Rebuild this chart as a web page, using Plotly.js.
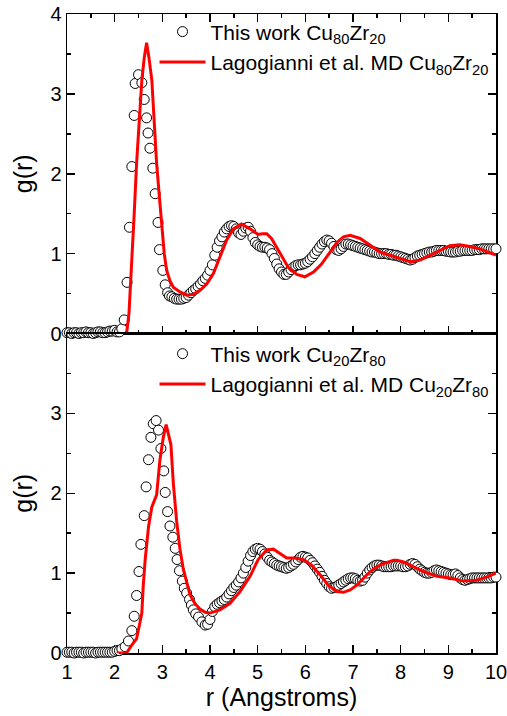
<!DOCTYPE html>
<html>
<head>
<meta charset="utf-8">
<script src="https://cdn.plot.ly/plotly-3.0.1.min.js"></script>
<style>html,body{margin:0;padding:0;background:#fff;}#chart{width:507px;height:716px;}</style>
</head>
<body>
<div id="chart"></div>
<script>
// ---- Top panel: Cu80Zr20 ----
const topCircR = [
  1.00,1.05,1.10,1.15,1.20,1.25,1.30,1.35,1.40,1.45,1.50,1.55,1.60,1.65,1.70,1.75,1.80,1.85,1.90,1.95,2.00,2.05,2.10,2.15,
  2.20,2.26,2.31,2.36,2.41,2.43,2.50,2.57,2.62,2.67,2.70,2.74,2.80,2.85,2.91,2.94,3.01,3.06,3.11,3.15,
  3.20,3.25,3.30,3.35,3.40,3.45,3.50,3.55,3.60,3.65,
  3.70,3.75,3.80,3.85,3.90,3.95,4.00,4.05,4.10,4.15,
  4.20,4.25,4.30,4.35,4.40,4.45,4.50,4.55,4.60,4.65,
  4.70,4.75,4.80,4.85,4.90,4.95,5.00,5.05,5.10,5.15,
  5.20,5.25,5.30,5.35,5.40,5.45,5.50,5.55,5.60,5.65,
  5.70,5.75,5.80,5.85,5.90,5.95,6.00,6.05,6.10,6.15,
  6.20,6.25,6.30,6.35,6.40,6.45,6.50,6.55,6.60,6.65,
  6.70,6.75,6.80,6.85,6.90,6.95,7.00,7.05,7.10,7.15,
  7.20,7.25,7.30,7.35,7.40,7.45,7.50,7.55,7.60,7.65,
  7.70,7.75,7.80,7.85,7.90,7.95,8.00,8.05,8.10,8.15,
  8.20,8.25,8.30,8.35,8.40,8.45,8.50,8.55,8.60,8.65,
  8.70,8.75,8.80,8.85,8.90,8.95,9.00,9.05,9.10,9.15,
  9.20,9.25,9.30,9.35,9.40,9.45,9.50,9.55,9.60,9.65,
  9.70,9.75,9.80,9.85,9.90,9.95,10.00
];
const topCircG = [
  0.01,0.01,0.00,0.01,0.01,0.00,0.01,0.01,0.02,0.01,0.01,0.00,0.01,0.02,0.02,0.01,0.01,0.02,0.03,0.03,0.04,0.02,0.02,0.06,
  0.17,0.64,1.33,2.09,2.73,3.13,3.24,3.14,2.93,2.70,2.51,2.32,2.07,1.75,1.39,1.05,0.79,0.61,0.51,0.47,
  0.46,0.44,0.43,0.43,0.43,0.44,0.45,0.48,0.51,0.54,
  0.56,0.59,0.62,0.66,0.69,0.73,0.79,0.86,0.98,1.08,
  1.16,1.21,1.27,1.31,1.34,1.35,1.34,1.31,1.26,1.24,
  1.28,1.32,1.33,1.28,1.20,1.14,1.11,1.09,1.08,1.08,
  1.07,1.05,1.00,0.94,0.87,0.81,0.77,0.74,0.74,0.77,
  0.80,0.83,0.85,0.86,0.86,0.87,0.88,0.90,0.93,0.96,
  1.00,1.04,1.08,1.12,1.15,1.17,1.16,1.13,1.09,1.05,
  1.04,1.06,1.09,1.12,1.12,1.11,1.10,1.09,1.08,1.07,
  1.06,1.05,1.04,1.03,1.02,1.02,1.01,1.00,1.00,1.00,
  1.00,0.99,0.99,0.98,0.98,0.97,0.96,0.95,0.94,0.93,
  0.92,0.93,0.95,0.97,0.98,0.99,1.00,1.01,1.02,1.02,
  1.03,1.04,1.04,1.04,1.04,1.03,1.03,1.02,1.02,1.02,
  1.03,1.03,1.04,1.04,1.04,1.04,1.04,1.05,1.05,1.05,
  1.06,1.06,1.06,1.06,1.06,1.06,1.06
];
const topMdR = [2.04,2.25,2.30,2.36,2.41,2.46,2.52,2.57,2.62,2.67,2.72,2.78,2.83,2.88,2.94,2.99,3.04,3.09,3.16,3.23,
  3.37,3.51,3.65,3.79,3.93,4.07,4.21,4.35,4.49,4.66,4.84,5.01,5.10,5.19,5.29,5.47,5.64,5.82,5.99,6.17,
  6.34,6.52,6.66,6.80,6.94,7.15,7.36,7.57,7.78,7.99,8.20,8.41,8.62,8.83,9.03,9.24,9.45,9.66,9.85,10.00];
const topMdG = [0.00,0.00,0.25,0.87,1.50,2.13,2.70,3.17,3.45,3.64,3.45,3.17,2.65,2.13,1.70,1.29,1.00,0.79,0.66,0.58,
  0.52,0.48,0.49,0.54,0.62,0.75,0.96,1.17,1.31,1.37,1.31,1.24,1.25,1.25,1.19,1.00,0.83,0.74,0.71,0.77,
  0.87,1.02,1.14,1.21,1.23,1.19,1.10,1.02,0.98,0.94,0.90,0.92,0.98,1.05,1.10,1.11,1.09,1.06,1.01,0.98];

// ---- Bottom panel: Cu20Zr80 ----
const botCircR = [
  1.00,1.05,1.10,1.15,1.20,1.25,1.30,1.35,1.40,1.45,1.50,1.55,1.60,1.65,1.70,1.75,1.80,1.85,1.90,1.95,2.00,2.05,2.10,2.15,
  2.22,2.29,2.36,2.41,2.46,2.51,2.55,2.62,2.66,2.71,
  2.76,2.81,2.87,2.92,2.97,3.03,3.06,3.11,3.16,3.22,
  3.27,3.31,3.36,3.42,3.46,3.51,3.57,3.61,3.65,3.70,
  3.76,3.83,3.90,3.95,
  4.00,4.05,4.10,4.15,4.20,4.25,4.30,4.35,4.40,4.45,
  4.50,4.55,4.60,4.65,4.70,4.75,4.80,4.85,4.90,4.95,
  5.00,5.05,5.10,5.15,5.20,5.25,5.30,5.35,5.40,5.45,
  5.50,5.55,5.60,5.65,5.70,5.75,5.80,5.85,5.90,5.95,
  6.00,6.05,6.10,6.15,6.20,6.25,6.30,6.35,6.40,6.45,
  6.50,6.55,6.60,6.65,6.70,6.75,6.80,6.85,6.90,6.95,
  7.00,7.05,7.10,7.15,7.20,7.25,7.30,7.35,7.40,7.45,
  7.50,7.55,7.60,7.65,7.70,7.75,7.80,7.85,7.90,7.95,
  8.00,8.05,8.10,8.15,8.20,8.25,8.30,8.35,8.40,8.45,
  8.50,8.55,8.60,8.65,8.70,8.75,8.80,8.85,8.90,8.95,
  9.00,9.05,9.10,9.15,9.20,9.25,9.30,9.35,9.40,9.45,
  9.50,9.55,9.60,9.65,9.70,9.75,9.80,9.85,9.90,9.95,
  10.00
];
const botCircG = [
  0.01,0.01,0.01,0.00,0.01,0.01,0.01,0.00,0.01,0.01,0.01,0.01,0.00,0.01,0.01,0.01,0.01,0.01,0.01,0.01,0.02,0.03,0.03,0.05,
  0.08,0.15,0.28,0.46,0.72,1.02,1.36,1.72,2.08,2.42,
  2.70,2.87,2.91,2.79,2.56,2.28,2.01,1.77,1.59,1.45,
  1.31,1.17,1.03,0.90,0.81,0.75,0.67,0.60,0.54,0.49,
  0.45,0.39,0.35,0.36,
  0.42,0.52,0.58,0.61,0.63,0.65,0.67,0.70,0.74,0.78,
  0.82,0.85,0.89,0.94,1.00,1.07,1.15,1.22,1.27,1.30,
  1.31,1.30,1.27,1.24,1.20,1.16,1.14,1.12,1.10,1.09,
  1.08,1.07,1.06,1.07,1.09,1.11,1.14,1.17,1.20,1.21,
  1.20,1.19,1.16,1.13,1.09,1.05,1.01,0.96,0.91,0.87,
  0.83,0.81,0.82,0.83,0.85,0.87,0.89,0.91,0.93,0.94,
  0.94,0.93,0.91,0.90,0.91,0.95,1.00,1.04,1.07,1.09,
  1.10,1.10,1.09,1.08,1.08,1.08,1.08,1.09,1.09,1.09,
  1.09,1.08,1.08,1.09,1.11,1.12,1.11,1.08,1.05,1.03,
  1.01,1.00,1.00,1.01,1.03,1.04,1.03,1.02,1.01,1.00,
  0.99,0.98,0.98,0.99,0.97,0.94,0.92,0.91,0.92,0.93,
  0.94,0.94,0.94,0.94,0.94,0.94,0.94,0.94,0.94,0.95,
  0.95
];
const botMdR = [2.04,2.25,2.36,2.46,2.52,2.57,2.60,2.64,2.71,2.78,2.88,2.95,3.02,3.08,3.18,3.23,3.30,3.37,3.44,3.51,
  3.58,3.68,3.79,3.90,4.00,4.21,4.42,4.63,4.84,5.01,5.19,5.33,5.47,5.61,5.78,5.96,6.13,6.31,6.48,6.66,
  6.80,6.94,7.08,7.22,7.36,7.50,7.64,7.85,7.92,8.06,8.20,8.48,8.76,9.03,9.31,9.59,9.80,10.00];
const botMdG = [0.00,0.00,0.10,0.18,0.35,0.50,0.85,1.17,1.58,1.83,1.98,2.42,2.70,2.86,2.61,2.13,1.65,1.30,1.05,0.88,
  0.73,0.62,0.55,0.51,0.50,0.54,0.62,0.77,0.96,1.17,1.29,1.30,1.25,1.19,1.19,1.17,1.10,0.98,0.85,0.77,
  0.76,0.79,0.85,0.93,1.02,1.08,1.12,1.16,1.16,1.14,1.10,1.02,0.96,0.94,0.90,0.91,0.95,1.00];

const nameWorkTop = 'This work Cu<sub>80</sub>Zr<sub>20</sub>';
const nameMdTop = 'Lagogianni et al. MD Cu<sub>80</sub>Zr<sub>20</sub>';
const nameWorkBot = 'This work Cu<sub>20</sub>Zr<sub>80</sub>';
const nameMdBot = 'Lagogianni et al. MD Cu<sub>20</sub>Zr<sub>80</sub>';

const FONT = 'Arial, "Liberation Sans", sans-serif';
const circMarker = {symbol:'circle', size:10, color:'#ffffff', line:{color:'#000000', width:1}};
const redLine = {color:'#ff0000', width:3};

const traces = [
  {x:topCircR, y:topCircG, type:'scatter', mode:'markers', name:nameWorkTop, marker:circMarker, xaxis:'x', yaxis:'y', legend:'legend', cliponaxis:false},
  {x:topMdR, y:topMdG, type:'scatter', mode:'lines', name:nameMdTop, line:redLine, xaxis:'x', yaxis:'y', legend:'legend', cliponaxis:false},
  {x:botCircR, y:botCircG, type:'scatter', mode:'markers', name:nameWorkBot, marker:circMarker, xaxis:'x2', yaxis:'y2', legend:'legend2', cliponaxis:false},
  {x:botMdR, y:botMdG, type:'scatter', mode:'lines', name:nameMdBot, line:redLine, xaxis:'x2', yaxis:'y2', legend:'legend2', cliponaxis:false}
];

const axCommon = {
  showline:true, linecolor:'#000', linewidth:1.5, showgrid:false, zeroline:false,
  ticks:'inside', ticklen:8, tickwidth:1.5, tickcolor:'#000',
  tickfont:{family:FONT, size:20, color:'#000'}, layer:'below traces',
  ticklabeloverflow:'allow'
};
const xMinor = {ticks:'inside', ticklen:4, tickwidth:1.5, tickcolor:'#000', dtick:0.5, tick0:0, showgrid:false};

const legendCommon = {
  xanchor:'left', yanchor:'top', bgcolor:'rgba(0,0,0,0)', borderwidth:0,
  font:{family:FONT, size:21, color:'#000'}, itemwidth:46, tracegroupgap:0
};

const layout = {
  width:507, height:716,
  margin:{l:67, r:11, t:14, b:63, pad:0},
  paper_bgcolor:'#fff', plot_bgcolor:'#fff',
  font:{family:FONT, color:'#000'},
  showlegend:true,
  xaxis: Object.assign({}, axCommon, {domain:[0,1], anchor:'y', range:[1,10], dtick:1, tick0:0,
    showticklabels:false, mirror:'ticks', minor:xMinor}),
  yaxis: Object.assign({}, axCommon, {domain:[0.5,1], anchor:'x', range:[0,4], dtick:1, tick0:0,
    mirror:'ticks', minor:xMinor,
    title:{text:'g(r)', font:{family:FONT, size:25, color:'#000'}, standoff:10}}),
  xaxis2: Object.assign({}, axCommon, {domain:[0,1], anchor:'y2', range:[1,10], dtick:1, tick0:0,
    mirror:true, minor:xMinor,
    title:{text:'r (Angstroms)', font:{family:FONT, size:25, color:'#000'}, standoff:4}}),
  yaxis2: Object.assign({}, axCommon, {domain:[0,0.5], anchor:'x2', range:[0,4],
    tickmode:'array', tickvals:[0,1,2,3,4], ticktext:['0','1','2','3',''],
    mirror:'ticks', minor:xMinor,
    title:{text:'g(r)', font:{family:FONT, size:25, color:'#000'}, standoff:10}}),
  legend: Object.assign({}, legendCommon, {x:0.204, y:1.004}),
  legend2: Object.assign({}, legendCommon, {x:0.204, y:0.500})
};

Plotly.newPlot('chart', traces, layout, {displayModeBar:false, staticPlot:true});
</script>
</body>
</html>
